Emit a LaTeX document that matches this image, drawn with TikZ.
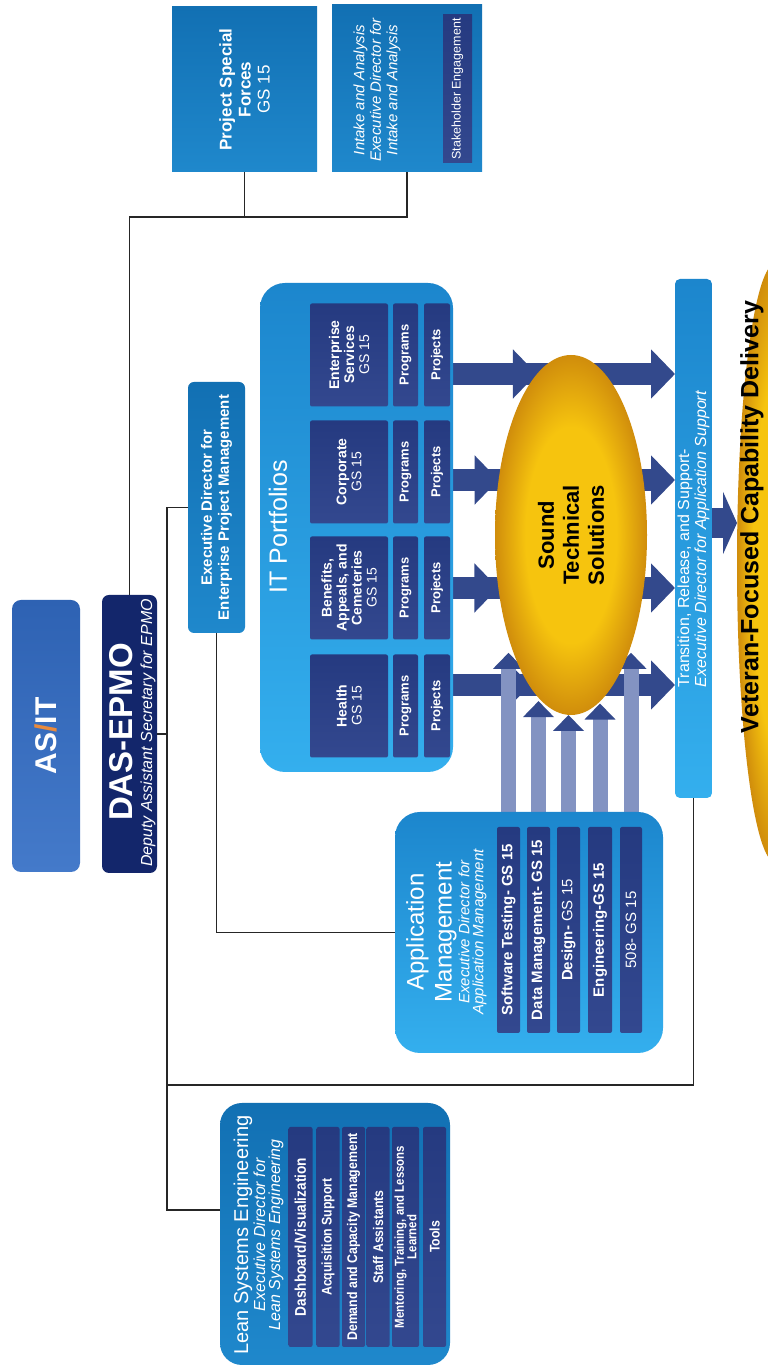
\documentclass[tikz,border=0pt]{standalone}
\usepackage{fontspec}
\setmainfont{Liberation Sans}
\newfontfamily\narrowfont[FakeStretch=0.88]{Liberation Sans}
\usetikzlibrary{arrows.meta,shapes.geometric}

\definecolor{asitA}{HTML}{2E62B3}
\definecolor{asitB}{HTML}{447ACA}
\definecolor{navy}{HTML}{13266B}
\definecolor{midA}{HTML}{1270B3}
\definecolor{midB}{HTML}{1F88CC}
\definecolor{liteA}{HTML}{1C86CD}
\definecolor{liteB}{HTML}{34AFEE}
\definecolor{deepA}{HTML}{253A80}
\definecolor{deepB}{HTML}{33488F}
\definecolor{arrowblue}{HTML}{33498C}
\definecolor{arrowpale}{HTML}{8393C2}
\definecolor{goldA}{HTML}{F6C40E}
\definecolor{goldB}{HTML}{D08D0C}
\definecolor{linkgray}{HTML}{262626}
\definecolor{slash}{HTML}{E98A3C}

\pgfdeclareradialshading{goldglow}{\pgfpointorigin}{color(0bp)=(goldA); color(15bp)=(goldA);
  color(25bp)=(goldB); color(50bp)=(goldB)}

\pgfdeclarelayer{bg}
\pgfdeclarelayer{back}
\pgfsetlayers{bg,back,main}

\begin{document}
\begin{tikzpicture}[x=1pt, y=1pt, rotate=90, transform shape,
    orgbox/.style={inner sep=0pt, outer sep=0pt, text=white, align=center},
    asitbox/.style={orgbox, rounded corners=9pt, top color=asitA, bottom color=asitB},
    navybox/.style={orgbox, rounded corners=7pt, fill=navy},
    midbox/.style={orgbox, top color=midA, bottom color=midB},
    litebox/.style={orgbox, top color=liteA, bottom color=liteB},
    deepbox/.style={orgbox, rounded corners=2pt, top color=deepA, bottom color=deepB},
    goldblob/.style={ellipse, inner sep=0pt, outer sep=0pt, align=center, shading=goldglow},
    wtext/.style={inner sep=0pt, text=white, align=center},
    link/.style={draw=linkgray, line width=1.6pt},
    flow/.style={draw=arrowblue, line width=22pt, -{Triangle[width=48pt, length=24pt]}},
    upflow/.style={draw=arrowpale, line width=15pt,
      -{Triangle[width=30pt, length=16pt, color=arrowblue]}},
    vflow/.style={draw=arrowblue, line width=30pt, -{Triangle[width=62pt, length=14pt]}},
  ]
  \useasboundingbox (0,0) rectangle (1369,-768);
  \begin{pgfonlayer}{bg}
    \fill[white] (0,0) rectangle (1369,-768);
  \end{pgfonlayer}

  % Leadership
  \node[asitbox, minimum width=272pt, minimum height=68pt,
        font=\fontsize{30}{30}\selectfont\bfseries] (asit) at (633,-46)
    {AS{\color{slash}/}IT};
  \node[navybox, minimum width=278pt, minimum height=55pt] (das) at (635,-129.5) {};
  \node[wtext, font=\fontsize{33}{33}\selectfont\bfseries] (dasname) at (637,-121) {DAS-EPMO};
  \node[wtext, font=\fontsize{16}{16}\selectfont\itshape] (dasrole) at (636,-148)
    {Deputy Assistant Secretary for EPMO};

  % Executive director, enterprise project management
  \node[midbox, rounded corners=6pt, minimum width=251pt, minimum height=57pt,
        font=\fontsize{15}{17}\selectfont\bfseries] (epm) at (861.5,-216.5)
    {Executive Director for\\Enterprise Project Management};

  % Project Special Forces and Intake
  \node[midbox, minimum width=165pt, minimum height=145pt,
        font=\fontsize{17}{19}\selectfont] (psf) at (1279.5,-244.5)
    {\textbf{Project Special}\\\textbf{Forces}\\GS 15};
  \node[midbox, minimum width=167pt, minimum height=150pt] (int) at (1280.5,-407) {};
  \node[wtext, font=\fontsize{15}{16.5}\selectfont\itshape] (inttxt) at (1279,-377)
    {Intake and Analysis\\Executive Director for\\Intake and Analysis};
  \node[deepbox, rounded corners=0pt, minimum width=148pt, minimum height=29pt,
        font=\fontsize{12.5}{13}\selectfont] (stk) at (1280,-457.5) {Stakeholder Engagement};

  % IT Portfolios
  \node[litebox, rounded corners=25pt, minimum width=489pt, minimum height=193pt]
    (itp) at (841.5,-356.5) {};
  \node[wtext, font=\fontsize{25}{25}\selectfont] (itptxt) at (842,-278) {IT Portfolios};
  \node[deepbox, minimum width=103pt, minimum height=78pt,
        font=\fontsize{14}{15}\selectfont] (hlth) at (663,-349) {\textbf{Health}\\GS 15};
  \node[deepbox, minimum width=103pt, minimum height=78pt,
        font=\fontsize{14}{15}\selectfont] (bnft) at (781,-349)
    {\textbf{Benefits,}\\\textbf{Appeals, and}\\\textbf{Cemeteries}\\GS 15};
  \node[deepbox, minimum width=103pt, minimum height=78pt,
        font=\fontsize{14}{15}\selectfont] (corp) at (897,-349) {\textbf{Corporate}\\GS 15};
  \node[deepbox, minimum width=103pt, minimum height=78pt,
        font=\fontsize{14}{15}\selectfont] (ents) at (1014,-349)
    {\textbf{Enterprise}\\\textbf{Services}\\GS 15};
  \node[deepbox, minimum width=103pt, minimum height=25pt,
        font=\fontsize{13}{13}\selectfont\bfseries] (prg1) at (663,-405.5) {Programs};
  \node[deepbox, minimum width=103pt, minimum height=25pt,
        font=\fontsize{13}{13}\selectfont\bfseries] (prg2) at (781,-405.5) {Programs};
  \node[deepbox, minimum width=103pt, minimum height=25pt,
        font=\fontsize{13}{13}\selectfont\bfseries] (prg3) at (897,-405.5) {Programs};
  \node[deepbox, minimum width=103pt, minimum height=25pt,
        font=\fontsize{13}{13}\selectfont\bfseries] (prg4) at (1014,-405.5) {Programs};
  \node[deepbox, minimum width=103pt, minimum height=26pt,
        font=\fontsize{13}{13}\selectfont\bfseries] (prj1) at (663,-437) {Projects};
  \node[deepbox, minimum width=103pt, minimum height=26pt,
        font=\fontsize{13}{13}\selectfont\bfseries] (prj2) at (781,-437) {Projects};
  \node[deepbox, minimum width=103pt, minimum height=26pt,
        font=\fontsize{13}{13}\selectfont\bfseries] (prj3) at (897,-437) {Projects};
  \node[deepbox, minimum width=103pt, minimum height=26pt,
        font=\fontsize{13}{13}\selectfont\bfseries] (prj4) at (1014,-437) {Projects};

  % Sound Technical Solutions
  \node[goldblob, minimum width=360pt, minimum height=152pt,
        font=\fontsize{22}{25}\selectfont\bfseries] (sts) at (834,-571)
    {Sound\\Technical\\Solutions};

  % Transition and delivery
  \node[litebox, rounded corners=5pt, minimum width=519pt, minimum height=37pt] (trs)
    at (830.5,-693.5) {};
  \node[wtext, align=left, font=\fontsize{16}{17}\selectfont] (trstxt) at (830,-693.5)
    {Transition, Release, and Support-\\\textit{Executive Director for Application Support}};
  \begin{scope}
    \clip (0,0) rectangle (1369,-768);
    \node[goldblob, minimum width=600pt, minimum height=78pt] (vet) at (806,-776) {};
  \end{scope}
  \node[inner sep=0pt, font=\fontsize{25}{25}\selectfont\bfseries] (vettxt) at (852,-752)
    {Veteran-Focused Capability Delivery};

  % Application Management
  \node[litebox, rounded corners=25pt, minimum width=241pt, minimum height=268pt]
    (apm) at (436.5,-529) {};
  \node[wtext, font=\fontsize{24}{28}\selectfont] (apmname) at (437,-431.5)
    {Application\\Management};
  \node[wtext, font=\fontsize{15}{14}\selectfont\itshape] (apmrole) at (437,-472.5)
    {Executive Director for\\Application Management};
  \node[deepbox, minimum width=206pt, minimum height=23pt,
        font=\fontsize{15}{15}\selectfont\bfseries] (am1) at (439,-508.5) {Software Testing- GS 15};
  \node[deepbox, minimum width=206pt, minimum height=23pt,
        font=\fontsize{15}{15}\selectfont\bfseries] (am2) at (439,-538.5) {Data Management- GS 15};
  \node[deepbox, minimum width=206pt, minimum height=23pt,
        font=\fontsize{15}{15}\selectfont] (am3) at (439,-568.5) {\textbf{Design-} GS 15};
  \node[deepbox, minimum width=206pt, minimum height=24pt,
        font=\fontsize{15}{15}\selectfont\bfseries] (am4) at (439,-600) {Engineering-GS 15};
  \node[deepbox, minimum width=206pt, minimum height=22pt,
        font=\fontsize{15}{15}\selectfont] (am5) at (439,-631) {508- GS 15};

  % Lean Systems Engineering
  \node[midbox, rounded corners=22pt, minimum width=262pt, minimum height=230pt]
    (lse) at (135,-335) {};
  \node[wtext, font=\fontsize{20}{20}\selectfont] (lsename) at (134,-243)
    {Lean Systems Engineering};
  \node[wtext, font=\fontsize{16}{15}\selectfont\itshape] (lserole) at (134,-268.5)
    {Executive Director for\\Lean Systems Engineering};
  \node[deepbox, minimum width=220pt, minimum height=24pt,
        font=\narrowfont\fontsize{15.5}{15}\selectfont\bfseries] (ls1) at (132,-300.5)
    {Dashboard/Visualization};
  \node[deepbox, minimum width=220pt, minimum height=23pt,
        font=\narrowfont\fontsize{14}{14}\selectfont\bfseries] (ls2) at (132,-328)
    {Acquisition Support};
  \node[deepbox, minimum width=220pt, minimum height=23pt,
        font=\narrowfont\fontsize{14}{14}\selectfont\bfseries] (ls3) at (132,-353.5)
    {Demand and Capacity Management};
  \node[deepbox, minimum width=220pt, minimum height=23pt,
        font=\narrowfont\fontsize{14}{14}\selectfont\bfseries] (ls4) at (132,-378)
    {Staff Assistants};
  \node[deepbox, minimum width=220pt, minimum height=27pt,
        font=\narrowfont\fontsize{13}{12.5}\selectfont\bfseries] (ls5) at (132,-405.5)
    {Mentoring, Training, and Lessons\\Learned};
  \node[deepbox, minimum width=220pt, minimum height=23pt,
        font=\narrowfont\fontsize{14}{14}\selectfont\bfseries] (ls6) at (132,-434.5)
    {Tools};

  % Rows of the big arrows and bus lines
  \coordinate (r1) at (684,0);
  \coordinate (r2) at (781,0);
  \coordinate (r3) at (889,0);
  \coordinate (r4) at (995,0);
  \coordinate (r5) at (846,0);
  \coordinate (bus1) at (1152,0);
  \coordinate (bus2) at (0,-167);
  \coordinate (lk) at (159,0);
  \coordinate (tk) at (284,0);

  \begin{pgfonlayer}{back}
    % Portfolios through the solutions to transition
    \draw[flow] (prj1.south -| r1) -- (r1 |- trs.north);
    \draw[flow] (prj2.south -| r2) -- (r2 |- trs.north);
    \draw[flow] (prj3.south -| r3) -- (r3 |- trs.north);
    \draw[flow] (prj4.south -| r4) -- (r4 |- trs.north);
    \draw[flow] (prj1.south -| r1) -- (r1 |- sts.165);
    \draw[flow] (prj2.south -| r2) -- (r2 |- sts.126);
    \draw[flow] (prj3.south -| r3) -- (r3 |- sts.53);
    \draw[flow] (prj4.south -| r4) -- (r4 |- sts.12);
    % Application management into the solutions
    \draw[upflow] (am1.east) -- (am1.east -| sts.154);
    \draw[upflow] (am2.east) -- (am2.east -| sts.170);
    \draw[upflow] (am3.east) -- (am3.east -| sts.180);
    \draw[upflow] (am4.east) -- (am4.east -| sts.189);
    \draw[upflow] (am5.east) -- (am5.east -| sts.206);
    % Delivery
    \draw[vflow] (trs.south -| r5) -- (r5 |- vet.north);
  \end{pgfonlayer}

  % Reporting lines
  \draw[link] (das.east) -- (das.east -| bus1) |- (int.west);
  \draw[link] (psf.west) -- (psf.west -| bus1);
  \draw[link] (das.south) -- (das.south |- bus2);
  \draw[link] (lk |- lse.north) -- (lk |- bus2) -- (bus2 -| epm.north) -- (epm.north);
  \draw[link] (tk |- bus2) -- (tk |- trs.west) -- (trs.west);
  \draw[link] (epm.west) -| (apm.north);
\end{tikzpicture}
\end{document}
